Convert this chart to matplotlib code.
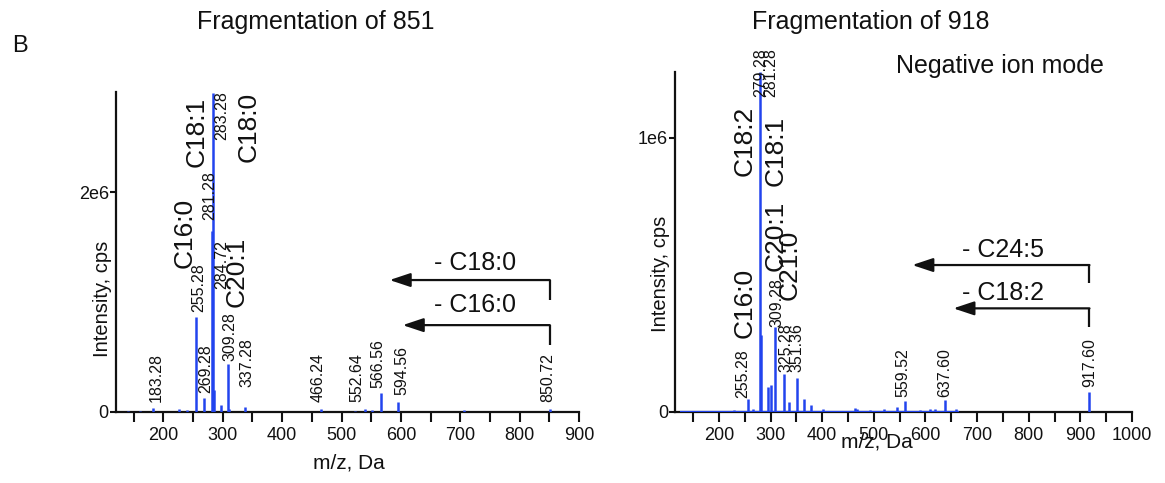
import matplotlib
matplotlib.use("Agg")
import matplotlib.pyplot as plt

plt.rcParams['font.family'] = ['Liberation Sans', 'DejaVu Sans']

BLUE = '#2244ee'
INK = '#111111'

# ---------------- Left panel: fragmentation of 851 ----------------
left_mz = [140, 160, 183.28, 227, 240, 255.28, 269.28, 281.28, 283.28, 284.72,
           296.6, 309.28, 311, 337.28, 466.24, 522.6, 539.6, 550.8, 566.56,
           594.56, 706, 850.72]
left_int = [0.005e6, 0.006e6, 0.04e6, 0.025e6, 0.02e6, 0.865e6, 0.125e6, 1.65e6, 2.9e6, 0.2e6,
            0.06e6, 0.44e6, 0.03e6, 0.05e6, 0.025e6, 0.01e6, 0.025e6, 0.02e6, 0.17e6,
            0.094e6, 0.02e6, 0.03e6]

left_num_labels = ['183.28', '255.28', '269.28', '281.28', '283.28', '284.72', '309.28',
                   '337.28', '466.24', '552.64', '566.56', '594.56', '850.72']
left_num_x = [187.7, 259, 271.9, 278.6, 298.3, 298.3, 312.3, 340.4, 461, 525.6, 562, 601, 848]
left_num_y = [0.094e6, 0.91e6, 0.17e6, 1.745e6, 2.47e6, 1.12e6, 0.46e6, 0.23e6,
              0.094e6, 0.094e6, 0.215e6, 0.155e6, 0.094e6]

left_fa_labels = ['C16:0', 'C18:1', 'C18:0', 'C20:1']
left_fa_x = [236.5, 256, 343, 323.5]
left_fa_y = [1.63e6, 2.55e6, 2.59e6, 1.275e6]

# neutral losses: text, arrow start m/z, arrow tip m/z, arrow level, stem bottom, text x, text y
left_loss_text = ['- C18:0', '- C16:0']
left_loss_start = [850.72, 850.72]
left_loss_tip = [581, 603]
left_loss_level = [1.2e6, 0.79e6]
left_loss_bottom = [1.02e6, 0.61e6]
left_loss_tx = [724.6, 724.6]
left_loss_ty = [1.355e6, 0.97e6]

# ---------------- Right panel: fragmentation of 918 ----------------
right_mz = [150, 175, 200, 230, 255.28, 265, 279.28, 281.28, 295.5, 300.7, 309.28, 325.28,
            336, 351.36, 364.5, 379, 401.6, 463, 468, 492, 519, 545, 559.52, 590,
            609, 619, 637.60, 660, 917.60]
right_int = [0.004e6, 0.005e6, 0.004e6, 0.006e6, 0.049e6, 0.012e6, 1.24e6, 0.28e6, 0.092e6, 0.10e6,
             0.31e6, 0.14e6, 0.037e6, 0.123e6, 0.046e6, 0.027e6, 0.01e6, 0.015e6, 0.012e6,
             0.008e6, 0.01e6, 0.02e6, 0.039e6, 0.008e6, 0.01e6, 0.012e6, 0.044e6, 0.012e6,
             0.074e6]

right_num_labels = ['255.28', '279.28', '281.28', '309.28', '325.28', '351.36',
                    '559.52', '637.60', '917.60']
right_num_x = [247, 281.4, 300.8, 313, 329.8, 350.6, 557, 638, 919]
right_num_y = [0.05e6, 1.15e6, 1.15e6, 0.311e6, 0.147e6, 0.147e6, 0.056e6, 0.056e6, 0.092e6]

right_fa_labels = ['C18:2', 'C18:1', 'C16:0', 'C20:1', 'C21:0']
right_fa_x = [250.4, 310.5, 250.4, 310.5, 337.6]
right_fa_y = [0.99e6, 0.953e6, 0.397e6, 0.643e6, 0.536e6]

right_loss_text = ['- C24:5', '- C18:2']
right_loss_start = [917.60, 917.60]
right_loss_tip = [574.4, 654]
right_loss_level = [0.536e6, 0.378e6]
right_loss_bottom = [0.47e6, 0.311e6]
right_loss_tx = [750, 750]
right_loss_ty = [0.59e6, 0.433e6]

W, H = 1165, 483
fig = plt.figure(figsize=(W / 100, H / 100), dpi=100)


def px_axes(x0, x1, ytop, ybot):
    return fig.add_axes([x0 / W, 1 - ybot / H, (x1 - x0) / W, (ybot - ytop) / H])


def style(ax, xlim, ylim, yticks, yticklabels, xmajor, xminor):
    ax.set_xlim(*xlim)
    ax.set_ylim(*ylim)
    for s in ['top', 'right']:
        ax.spines[s].set_visible(False)
    for s in ['left', 'bottom']:
        ax.spines[s].set_linewidth(1.6)
        ax.spines[s].set_color(INK)
    ax.set_xticks(xmajor)
    ax.set_xticks(xminor, minor=True)
    ax.set_yticks(yticks)
    ax.set_yticklabels(yticklabels)
    ax.tick_params(axis='x', which='both', direction='out', length=7, width=1.5,
                   labelsize=13, pad=4, colors=INK)
    ax.tick_params(axis='y', which='both', direction='out', length=4, width=1.5,
                   labelsize=13, pad=1, colors=INK)
    ax.patch.set_alpha(0)


def draw(ax, mz, inten, nl, nx, ny, fl, fx, fy, lt, ls, ltip, llev, lbot, ltx, lty):
    ax.vlines(mz, 0, inten, color=BLUE, lw=1.8, zorder=3)
    for t, x, y in zip(nl, nx, ny):
        ax.text(x, y, t, rotation=90, ha='center', va='bottom', fontsize=11.5,
                color=INK, clip_on=False)
    for t, x, y in zip(fl, fx, fy):
        ax.text(x, y, t, rotation=90, ha='center', va='center', fontsize=19,
                color=INK, clip_on=False)
    for t, s, tip, lev, bot, tx, ty in zip(lt, ls, ltip, llev, lbot, ltx, lty):
        ax.plot([s, s], [bot, lev], color=INK, lw=1.6, solid_capstyle='butt')
        ax.annotate('', xy=(tip, lev), xytext=(s, lev),
                    arrowprops=dict(arrowstyle='-|>,head_length=0.9,head_width=0.3',
                                    color=INK, lw=1.6, shrinkA=0, shrinkB=0,
                                    mutation_scale=14))
        ax.text(tx, ty, t, ha='center', va='center', fontsize=18, color=INK)


# Left axes
axL = px_axes(115.8, 579.1, 92, 412)
style(axL, (120, 900), (0, 2.91e6), [0, 2e6], ['0', '2e6'],
      list(range(200, 901, 100)), list(range(150, 900, 100)))
draw(axL, left_mz, left_int, left_num_labels, left_num_x, left_num_y,
     left_fa_labels, left_fa_x, left_fa_y, left_loss_text, left_loss_start,
     left_loss_tip, left_loss_level, left_loss_bottom, left_loss_tx, left_loss_ty)

# Right axes
axR = px_axes(675.1, 1132, 72, 412)
style(axR, (115, 1000), (0, 1.24e6), [0, 1e6], ['0', '1e6'],
      list(range(200, 1001, 100)), list(range(150, 1000, 100)))
axR.hlines(0, 125, 665, color=BLUE, lw=1.6, zorder=3)
draw(axR, right_mz, right_int, right_num_labels, right_num_x, right_num_y,
     right_fa_labels, right_fa_x, right_fa_y, right_loss_text, right_loss_start,
     right_loss_tip, right_loss_level, right_loss_bottom, right_loss_tx, right_loss_ty)

# Figure-level text
def ftext(x, y, s, **kw):
    fig.text(x / W, 1 - y / H, s, color=INK, **kw)

ftext(20, 46, 'B', fontsize=17, ha='center', va='center')
ftext(316, 22, 'Fragmentation of 851', fontsize=18, ha='center', va='center')
ftext(871, 22, 'Fragmentation of 918', fontsize=18, ha='center', va='center')
ftext(1000, 66, 'Negative ion mode', fontsize=18, ha='center', va='center')
ftext(102, 299, 'Intensity, cps', fontsize=14.5, rotation=90, ha='center', va='center')
ftext(660, 274, 'Intensity, cps', fontsize=14.5, rotation=90, ha='center', va='center')
ftext(349, 463, 'm/z, Da', fontsize=15, ha='center', va='center')
ftext(877, 442, 'm/z, Da', fontsize=15, ha='center', va='center')

fig.savefig('out.png', dpi=100)
